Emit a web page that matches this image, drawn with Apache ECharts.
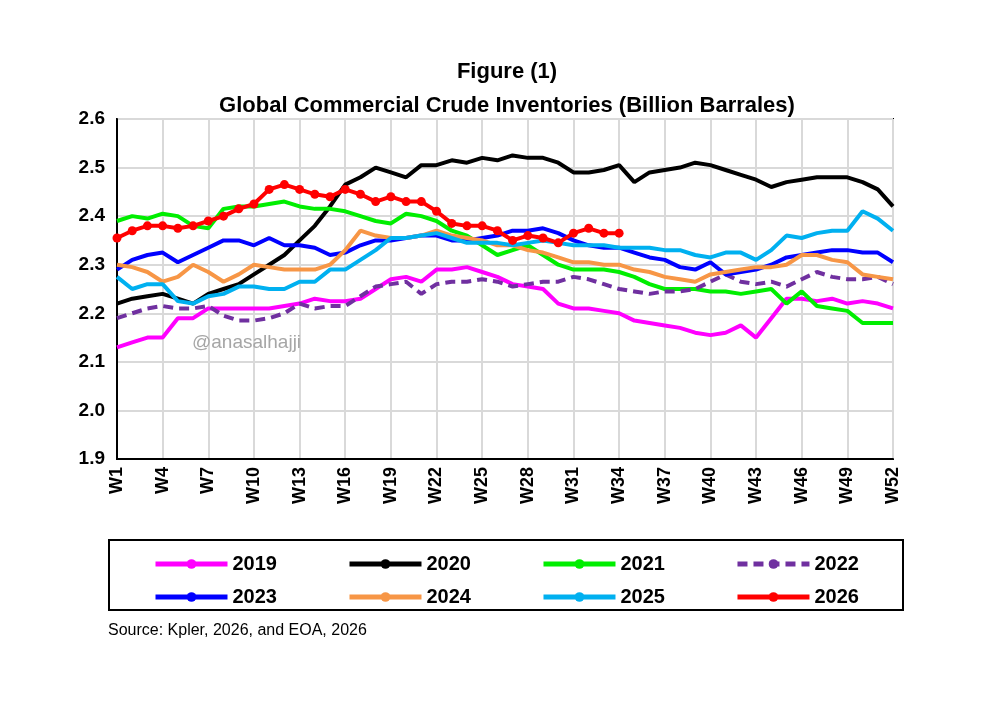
<!DOCTYPE html>
<html>
<head>
<meta charset="utf-8">
<script src="https://cdn.jsdelivr.net/npm/echarts@6.0.0/dist/echarts.min.js"></script>
<style>html,body{margin:0;background:#fff}#c{width:987px;height:711px}</style>
</head>
<body>
<div id="c"></div>
<script>
const weeks = Array.from({ length: 52 }, (_, i) => 'W' + (i + 1));
const yTicks = [1.9, 2.0, 2.1, 2.2, 2.3, 2.4, 2.5, 2.6];

const y2019 = [2.13,2.14,2.15,2.15,2.19,2.19,2.21,2.21,2.21,2.21,2.21,2.215,2.22,2.23,2.225,2.225,2.23,2.25,2.27,2.275,2.265,2.29,2.29,2.295,2.285,2.275,2.26,2.255,2.25,2.22,2.21,2.21,2.205,2.2,2.185,2.18,2.175,2.17,2.16,2.155,2.16,2.175,2.15,2.19,2.23,2.23,2.225,2.23,2.22,2.225,2.22,2.21];
const y2020 = [2.22,2.23,2.235,2.24,2.23,2.22,2.24,2.25,2.26,2.28,2.30,2.32,2.35,2.38,2.42,2.465,2.48,2.5,2.49,2.48,2.505,2.505,2.515,2.51,2.52,2.515,2.525,2.52,2.52,2.51,2.49,2.49,2.495,2.505,2.47,2.49,2.495,2.5,2.51,2.505,2.495,2.485,2.475,2.46,2.47,2.475,2.48,2.48,2.48,2.47,2.455,2.42];
const y2021 = [2.39,2.40,2.395,2.405,2.40,2.38,2.375,2.415,2.42,2.42,2.425,2.43,2.42,2.415,2.415,2.41,2.40,2.39,2.385,2.405,2.40,2.39,2.37,2.36,2.34,2.32,2.33,2.34,2.32,2.30,2.29,2.29,2.29,2.285,2.275,2.26,2.25,2.25,2.25,2.245,2.245,2.24,2.245,2.25,2.22,2.245,2.215,2.21,2.205,2.18,2.18,2.18];
const y2022 = [2.19,2.2,2.21,2.215,2.21,2.21,2.215,2.195,2.185,2.185,2.19,2.2,2.22,2.21,2.215,2.215,2.235,2.255,2.26,2.265,2.24,2.26,2.265,2.265,2.27,2.265,2.255,2.26,2.265,2.265,2.275,2.27,2.26,2.25,2.245,2.24,2.245,2.245,2.25,2.265,2.28,2.265,2.26,2.265,2.255,2.27,2.285,2.275,2.27,2.27,2.275,2.26];
const y2023 = [2.29,2.31,2.32,2.325,2.305,2.32,2.335,2.35,2.35,2.34,2.355,2.34,2.34,2.335,2.32,2.325,2.34,2.35,2.35,2.355,2.36,2.36,2.35,2.35,2.355,2.36,2.37,2.37,2.375,2.365,2.35,2.34,2.335,2.335,2.325,2.315,2.31,2.295,2.29,2.305,2.28,2.285,2.29,2.30,2.315,2.32,2.325,2.33,2.33,2.325,2.325,2.305];
const y2024 = [2.30,2.295,2.285,2.265,2.275,2.30,2.285,2.265,2.28,2.30,2.295,2.29,2.29,2.29,2.30,2.33,2.37,2.36,2.355,2.355,2.36,2.37,2.36,2.355,2.35,2.34,2.34,2.33,2.325,2.315,2.305,2.305,2.30,2.30,2.29,2.285,2.275,2.27,2.265,2.28,2.285,2.29,2.295,2.295,2.30,2.32,2.32,2.31,2.305,2.28,2.275,2.27];
const y2025 = [2.275,2.25,2.26,2.26,2.225,2.22,2.235,2.24,2.255,2.255,2.25,2.25,2.265,2.265,2.29,2.29,2.31,2.33,2.355,2.355,2.36,2.365,2.355,2.345,2.345,2.345,2.34,2.345,2.35,2.345,2.34,2.34,2.34,2.335,2.335,2.335,2.33,2.33,2.32,2.315,2.325,2.325,2.31,2.33,2.36,2.355,2.365,2.37,2.37,2.41,2.395,2.37];
const y2026 = [2.355,2.37,2.38,2.38,2.375,2.38,2.39,2.40,2.415,2.425,2.455,2.465,2.455,2.445,2.44,2.455,2.445,2.43,2.44,2.43,2.43,2.41,2.385,2.38,2.38,2.37,2.35,2.36,2.355,2.345,2.365,2.375,2.365,2.365];

const lineSeries = (name, data, color, extra) => Object.assign({
  name, type: 'line', data, symbol: 'none', smooth: false,
  lineStyle: { color, width: 4 }, itemStyle: { color }
}, extra || {});

const series = [
  lineSeries('2019', y2019, '#ff00ff'),
  lineSeries('2020', y2020, '#000000'),
  lineSeries('2021', y2021, '#00ee00'),
  lineSeries('2022', y2022, '#7030a0', { lineStyle: { color: '#7030a0', width: 4, type: [10, 6] } }),
  lineSeries('2023', y2023, '#0000ff'),
  lineSeries('2024', y2024, '#f79646'),
  lineSeries('2025', y2025, '#00b0f0'),
  lineSeries('2026', y2026, '#ff0000', { symbol: 'circle', symbolSize: 9, z: 5 })
];

const legendCommon = {
  itemWidth: 72, itemHeight: 12, itemGap: 70,
  lineStyle: { width: 5 },
  textStyle: { fontSize: 20, fontWeight: 'bold', color: '#000', fontFamily: 'Liberation Sans' }
};

const chart = echarts.init(document.getElementById('c'));
chart.setOption({
  animation: false,
  title: {
    text: 'Figure (1)\nGlobal Commercial Crude Inventories (Billion Barrales)',
    left: 502, top: 50, textAlign: 'center',
    textStyle: { fontSize: 22, fontWeight: 'bold', lineHeight: 34, color: '#000', fontFamily: 'Liberation Sans' }
  },
  graphic: [
    { type: 'rect', shape: { x: 109, y: 540, width: 794, height: 70 }, style: { fill: 'none', stroke: '#000', lineWidth: 2 } },
    { type: 'text', left: 108, top: 623, style: { text: 'Source: Kpler, 2026, and EOA, 2026', fontSize: 16, fill: '#000', fontFamily: 'Liberation Sans' } },
    { type: 'text', left: 192, top: 333, z: 10, style: { text: '@anasalhajji', fontSize: 19, fill: '#a6a6a6', fontFamily: 'Liberation Sans' } }
  ],
  legend: [
    Object.assign({ data: ['2019', '2020', '2021', '2022'], left: 148, top: 549 }, legendCommon),
    Object.assign({ data: ['2023', '2024', '2025', '2026'], left: 148, top: 582 }, legendCommon)
  ],
  grid: { left: 117, right: 94, top: 119, bottom: 252, show: true, borderColor: '#000', borderWidth: 2 },
  xAxis: {
    type: 'category', data: weeks, boundaryGap: false,
    axisLine: { lineStyle: { color: '#000', width: 2 } },
    axisTick: { show: false },
    axisLabel: { interval: 2, rotate: 90, fontSize: 18, fontWeight: 'bold', color: '#000', fontFamily: 'Liberation Sans', margin: 8 },
    splitLine: { show: true, interval: 2, lineStyle: { color: '#d9d9d9', width: 2 } }
  },
  yAxis: {
    type: 'value', min: yTicks[0], max: yTicks[yTicks.length - 1], interval: 0.1,
    axisLine: { show: true, lineStyle: { color: '#000', width: 2 } },
    axisTick: { show: false },
    axisLabel: { fontSize: 19, fontWeight: 'bold', color: '#000', fontFamily: 'Liberation Sans', margin: 12, formatter: v => v.toFixed(1) },
    splitLine: { lineStyle: { color: '#d9d9d9', width: 2 } }
  },
  series
});
</script>
</body>
</html>
